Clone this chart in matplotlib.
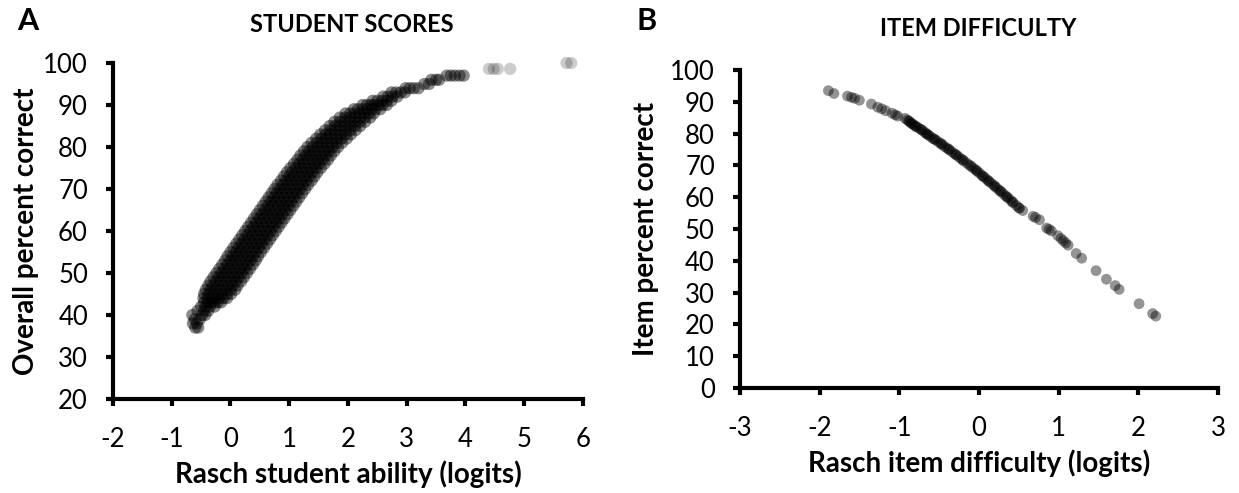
import numpy as np
import matplotlib
matplotlib.use("Agg")
import matplotlib.pyplot as plt

plt.rcParams['font.family'] = ['Lato', 'DejaVu Sans']
plt.rcParams['axes.unicode_minus'] = False

# ---- Panel A: student scores (one row per percent level)
student_pct = [37, 38, 39, 40, 41, 42,
               43, 44, 45, 46, 47, 48, 49, 50, 51, 52, 53, 54, 55, 56, 57, 58, 59,
               60, 61, 62, 63, 64, 65, 66, 67, 68, 69, 70, 71, 72, 73, 74, 75, 76,
               77, 78, 79, 80, 81, 82, 83, 84, 85, 86, 87, 88, 89, 90, 91, 92, 93,
               94, 95, 96, 97]
student_ability = [
    [-0.60, -0.55],
    [-0.64, -0.57],
    [-0.61, -0.52],
    [-0.65, -0.48, -0.43],
    [-0.56, -0.45, -0.38],
    [-0.50, -0.42, -0.35, -0.27],
    [-0.45, -0.39, -0.33, -0.28, -0.22, -0.16],
    [-0.46, -0.39, -0.32, -0.26, -0.19, -0.12, -0.06],
    [-0.45, -0.37, -0.29, -0.22, -0.14, -0.06, 0.01],
    [-0.42, -0.34, -0.25, -0.17, -0.08, 0.00, 0.08],
    [-0.38, -0.30, -0.21, -0.13, -0.04, 0.04, 0.12],
    [-0.34, -0.25, -0.17, -0.08, 0.01, 0.09, 0.18],
    [-0.29, -0.20, -0.12, -0.03, 0.06, 0.14, 0.23],
    [-0.24, -0.15, -0.07, 0.02, 0.11, 0.19, 0.28],
    [-0.19, -0.10, -0.02, 0.07, 0.16, 0.24, 0.33],
    [-0.14, -0.05, 0.03, 0.12, 0.21, 0.29, 0.38],
    [-0.09, 0.00, 0.08, 0.17, 0.26, 0.34, 0.43],
    [-0.05, 0.04, 0.12, 0.21, 0.30, 0.38, 0.47],
    [0.00, 0.09, 0.17, 0.26, 0.35, 0.43, 0.52],
    [0.05, 0.14, 0.22, 0.31, 0.40, 0.48, 0.57],
    [0.10, 0.19, 0.27, 0.36, 0.45, 0.53, 0.62],
    [0.15, 0.24, 0.32, 0.41, 0.50, 0.58, 0.67],
    [0.20, 0.29, 0.37, 0.46, 0.55, 0.63, 0.72],
    [0.25, 0.34, 0.42, 0.51, 0.60, 0.68, 0.77],
    [0.30, 0.39, 0.47, 0.56, 0.65, 0.73, 0.82],
    [0.35, 0.44, 0.52, 0.61, 0.70, 0.78, 0.87],
    [0.40, 0.49, 0.57, 0.66, 0.75, 0.83, 0.92],
    [0.45, 0.54, 0.62, 0.71, 0.80, 0.88, 0.97],
    [0.50, 0.59, 0.67, 0.76, 0.85, 0.93, 1.02],
    [0.55, 0.64, 0.72, 0.81, 0.90, 0.98, 1.07],
    [0.60, 0.69, 0.77, 0.86, 0.95, 1.03, 1.12],
    [0.65, 0.74, 0.82, 0.91, 1.00, 1.08, 1.17],
    [0.70, 0.79, 0.87, 0.96, 1.05, 1.13, 1.22],
    [0.75, 0.84, 0.92, 1.01, 1.10, 1.18, 1.27],
    [0.80, 0.89, 0.97, 1.06, 1.15, 1.23, 1.32],
    [0.86, 0.95, 1.03, 1.12, 1.21, 1.29, 1.38],
    [0.91, 1.00, 1.08, 1.17, 1.26, 1.34, 1.43],
    [0.96, 1.05, 1.13, 1.22, 1.31, 1.39, 1.48],
    [1.02, 1.11, 1.19, 1.28, 1.37, 1.45, 1.54],
    [1.08, 1.17, 1.25, 1.34, 1.43, 1.51, 1.60],
    [1.14, 1.23, 1.31, 1.40, 1.49, 1.57, 1.66],
    [1.19, 1.28, 1.36, 1.45, 1.54, 1.62, 1.71],
    [1.25, 1.34, 1.42, 1.51, 1.60, 1.68, 1.77],
    [1.31, 1.40, 1.48, 1.57, 1.66, 1.74, 1.83],
    [1.38, 1.47, 1.55, 1.64, 1.73, 1.81, 1.90],
    [1.46, 1.55, 1.63, 1.72, 1.81, 1.89, 1.98],
    [1.53, 1.62, 1.70, 1.79, 1.88, 1.96, 2.05],
    [1.61, 1.70, 1.78, 1.87, 1.96, 2.04, 2.13],
    [1.69, 1.78, 1.86, 1.95, 2.04, 2.12, 2.21],
    [1.77, 1.86, 1.94, 2.03, 2.12, 2.20, 2.29],
    [1.86, 1.95, 2.03, 2.12, 2.21, 2.29, 2.38],
    [1.96, 2.04, 2.12, 2.20, 2.28, 2.36, 2.44],
    [2.10, 2.17, 2.25, 2.32, 2.40, 2.47, 2.55],
    [2.25, 2.32, 2.39, 2.45, 2.52, 2.59, 2.66],
    [2.42, 2.50, 2.58, 2.66, 2.74],
    [2.60, 2.68, 2.76, 2.84],
    [2.74, 2.82, 2.90, 2.97],
    [2.98, 3.05, 3.12, 3.20],
    [3.30, 3.38],
    [3.42, 3.50, 3.55],
    [3.68, 3.75, 3.82, 3.90, 3.97],
]
# the few isolated top scorers (drawn lighter, like the picture)
top_ability = [4.40, 4.48, 4.55, 4.76, 5.72, 5.80]
top_pct = [98.6, 98.6, 98.6, 98.6, 100, 100]

# ---- Panel B: item difficulty
item_difficulty = [-1.89, -1.82, -1.65, -1.60, -1.56, -1.50, -1.35, -1.27, -1.22, -1.17,
                   -1.09, -1.05, -1.02, -0.93, -0.90, -0.88, -0.87, -0.85, -0.84, -0.82,
                   -0.80, -0.79, -0.77, -0.74, -0.72, -0.71, -0.68, -0.66, -0.65, -0.63,
                   -0.61, -0.58, -0.56, -0.55, -0.52, -0.49, -0.47, -0.46, -0.43, -0.40,
                   -0.38, -0.37, -0.34, -0.31, -0.29, -0.28, -0.25, -0.22, -0.20, -0.19,
                   -0.15, -0.12, -0.10, -0.08, -0.05, -0.03, -0.02, 0.01, 0.04, 0.05,
                   0.07, 0.10, 0.12, 0.13, 0.16, 0.19, 0.20, 0.22, 0.25, 0.27,
                   0.28, 0.31, 0.34, 0.35, 0.37, 0.40, 0.42, 0.43, 0.47, 0.50,
                   0.51, 0.55, 0.68, 0.71, 0.76, 0.85, 0.88, 0.91, 0.99, 1.03,
                   1.06, 1.09, 1.12, 1.22, 1.29, 1.47, 1.60, 1.71, 1.76, 2.01,
                   2.18, 2.22]
item_pct = [93.5, 92.6, 91.8, 91.4, 91.1, 90.5, 89.3, 88.3, 87.8, 87.2,
            86.4, 85.9, 85.5, 84.8, 84.3, 84.0, 83.7, 83.3, 83.1, 82.8,
            82.4, 82.2, 82.0, 81.5, 81.2, 81.0, 80.4, 80.0, 79.8, 79.5,
            79.1, 78.5, 78.3, 78.1, 77.6, 77.0, 76.8, 76.5, 75.9, 75.4,
            75.1, 74.9, 74.3, 73.7, 73.4, 73.2, 72.6, 72.0, 71.7, 71.4,
            70.7, 70.1, 69.8, 69.3, 68.8, 68.4, 68.1, 67.5, 66.8, 66.6,
            66.2, 65.6, 65.1, 64.9, 64.3, 63.7, 63.4, 63.0, 62.3, 61.9,
            61.7, 61.0, 60.3, 60.1, 59.7, 59.0, 58.5, 58.3, 57.4, 56.7,
            56.5, 55.8, 54.0, 53.6, 52.9, 50.3, 49.9, 49.4, 47.9, 47.0,
            46.3, 45.6, 44.9, 42.3, 40.8, 36.9, 34.2, 32.2, 31.0, 26.5,
            23.4, 22.6]

ticks_a_x = [-2, -1, 0, 1, 2, 3, 4, 5, 6]
ticks_a_y = [20, 30, 40, 50, 60, 70, 80, 90, 100]
ticks_b_x = [-3, -2, -1, 0, 1, 2, 3]
ticks_b_y = [0, 10, 20, 30, 40, 50, 60, 70, 80, 90, 100]

# flatten the rows of panel A
sx, sy = [], []
for pct, row in zip(student_pct, student_ability):
    for a in row:
        sx.append(a)
        sy.append(pct)

fig = plt.figure(figsize=(12.39, 4.93), dpi=100)
ax_a = fig.add_axes([0.0912, 0.1907, 0.3793, 0.6815])
ax_b = fig.add_axes([0.5972, 0.213, 0.3858, 0.645])


def style_axis(ax, xt, yt):
    for side in ['top', 'right']:
        ax.spines[side].set_visible(False)
    for side in ['left', 'bottom']:
        ax.spines[side].set_linewidth(3)
        ax.spines[side].set_color('black')
    ax.set_xticks(xt)
    ax.set_yticks(yt)
    ax.set_xlim(xt[0], xt[-1])
    ax.set_ylim(yt[0], yt[-1])
    ax.tick_params(axis='both', direction='out', length=5, width=3, labelsize=18.5,
                   colors='black')
    ax.tick_params(axis='x', pad=15)
    ax.tick_params(axis='y', pad=13)


ax_a.scatter(sx, sy, s=78, color='black', alpha=0.45, edgecolors='none', clip_on=False)
ax_a.scatter(top_ability, top_pct, s=78, color='black', alpha=0.2, edgecolors='none',
             clip_on=False)
style_axis(ax_a, ticks_a_x, ticks_a_y)
ax_a.set_xlabel('Rasch student ability (logits)', fontsize=20, fontweight='bold', labelpad=6)
ax_a.set_ylabel('Overall percent correct', fontsize=20, fontweight='bold', labelpad=3)

ax_b.scatter(item_difficulty, item_pct, s=60, color='black', alpha=0.42,
             edgecolors='none', clip_on=False)
style_axis(ax_b, ticks_b_x, ticks_b_y)
ax_b.set_xlabel('Rasch item difficulty (logits)', fontsize=20, fontweight='bold', labelpad=6)
ax_b.set_ylabel('Item percent correct', fontsize=20, fontweight='bold', labelpad=8)

fig.text(352 / 1239, 1 - 24 / 493, 'STUDENT SCORES', fontsize=17, fontweight='bold',
         ha='center', va='center')
fig.text(978 / 1239, 1 - 28 / 493, 'ITEM DIFFICULTY', fontsize=17, fontweight='bold',
         ha='center', va='center')
fig.text(28 / 1239, 1 - 21 / 493, 'A', fontsize=22, fontweight='bold', ha='center', va='center')
fig.text(647 / 1239, 1 - 21 / 493, 'B', fontsize=22, fontweight='bold', ha='center', va='center')

fig.savefig('out.png', dpi=100)
